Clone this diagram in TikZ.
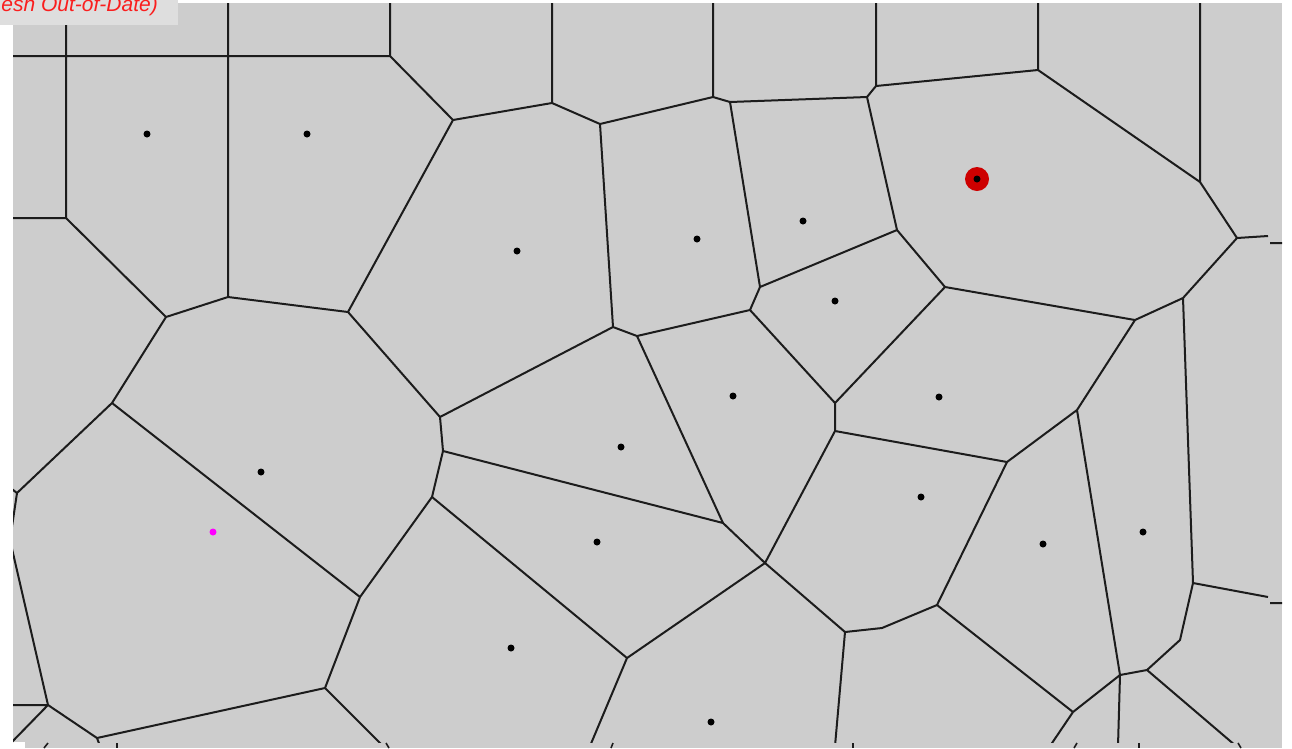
\documentclass[tikz,border=0pt]{standalone}
\usepackage{fontspec}
\newfontfamily\labelfont{Liberation Sans}
\definecolor{cellgray}{RGB}{205,205,205}
\definecolor{edgecol}{RGB}{28,28,28}
\definecolor{boxgray}{RGB}{222,222,222}
\definecolor{labelred}{RGB}{250,30,30}
\definecolor{ringred}{RGB}{205,0,0}
\definecolor{pinksite}{RGB}{255,0,255}
\begin{document}
\begin{tikzpicture}[x=1pt,y=-1pt,
  edge/.style={draw=edgecol, line width=2pt, line join=round},
  site/.style={circle, fill=black, inner sep=0pt, minimum size=7pt},
  tick/.style={draw=edgecol, line width=1.6pt}]
\useasboundingbox (0,0) rectangle (1292,748);
\fill[white] (0,0) rectangle (1292,748);
\fill[cellgray] (13,3) rectangle (1282,748);
\fill[white] (0,742) rectangle (25,748);
% boundary points
\coordinate (a1) at (66,20); \coordinate (a2) at (228,0); \coordinate (a3) at (390,0);
\coordinate (a4) at (552,0); \coordinate (a5) at (713,0); \coordinate (a6) at (876,0);
\coordinate (a7) at (1038,0); \coordinate (a8) at (1200,0);
\coordinate (l1) at (10,56); \coordinate (l2) at (10,218); \coordinate (l3) at (8,486);
\coordinate (l4) at (10,540); \coordinate (l5) at (10,705); \coordinate (l6) at (8,746);
\coordinate (r1a) at (1268,236); \coordinate (r1b) at (1270,243); \coordinate (r1c) at (1285,243);
\coordinate (r2a) at (1268,597); \coordinate (r2b) at (1270,603); \coordinate (r2c) at (1285,603);
\coordinate (b1) at (383,746); \coordinate (b2) at (590,746); \coordinate (b3) at (835,746);
\coordinate (b4) at (1050,746); \coordinate (b5) at (1118,746); \coordinate (b6) at (1236,746);
\coordinate (b7) at (100,746);
% vertices
\coordinate (v1) at (66,56); \coordinate (v2) at (228,56); \coordinate (v3) at (390,56);
\coordinate (v4) at (66,218); \coordinate (v5) at (166,317); \coordinate (v6) at (228,297);
\coordinate (v7) at (348,312); \coordinate (v8) at (453,120); \coordinate (v9) at (552,103);
\coordinate (v10) at (600,124); \coordinate (v11) at (713,97); \coordinate (v12) at (730,102);
\coordinate (v13) at (867,97); \coordinate (v14) at (876,86); \coordinate (v15) at (1038,70);
\coordinate (v16) at (1200,182); \coordinate (v17) at (1237,238); \coordinate (v18) at (1183,298);
\coordinate (v19) at (1135,320); \coordinate (v20) at (945,287); \coordinate (v21) at (897,230);
\coordinate (v22) at (760,287); \coordinate (v23) at (750,310); \coordinate (v24) at (637,336);
\coordinate (v25) at (613,327); \coordinate (v26) at (440,417); \coordinate (v27) at (443,451);
\coordinate (v28) at (432,497); \coordinate (v29) at (723,523); \coordinate (v30) at (765,563);
\coordinate (v31) at (835,403); \coordinate (v32) at (835,431); \coordinate (v33) at (1007,462);
\coordinate (v34) at (1077,410); \coordinate (v35) at (937,605); \coordinate (v35b) at (882,628);
\coordinate (v36) at (845,632); \coordinate (v37) at (627,658); \coordinate (v38) at (112,403);
\coordinate (v39) at (17,493); \coordinate (v40) at (360,597); \coordinate (v41) at (325,688);
\coordinate (v42) at (48,705); \coordinate (v43) at (97,738); \coordinate (v44) at (1193,583);
\coordinate (v45) at (1180,640); \coordinate (v46) at (1147,670); \coordinate (v47) at (1120,675);
\coordinate (v48) at (1073,712);
\begin{scope}
\clip (13,3) rectangle (1282,742);
\draw[edge]
  (l1) -- (v1) -- (v2) -- (v3)
  (a1) -- (v1) -- (v4) -- (l2)
  (a2) -- (v2) -- (v6)
  (a3) -- (v3) -- (v8)
  (v4) -- (v5) -- (v6) -- (v7) -- (v8) -- (v9) -- (v10) -- (v11) -- (v12) -- (v13) -- (v14) -- (v15) -- (v16) -- (v17) -- (r1a)
  (r1b) -- (r1c)
  (a4) -- (v9)  (a5) -- (v11)  (a6) -- (v14)  (a7) -- (v15)  (a8) -- (v16)
  (v17) -- (v18) -- (v19) -- (v20) -- (v21) -- (v13)
  (v21) -- (v22) -- (v12)
  (v22) -- (v23) -- (v24) -- (v25) -- (v10)
  (v25) -- (v26) -- (v7)
  (v26) -- (v27) -- (v28)
  (v27) -- (v29) -- (v24)
  (v29) -- (v30)
  (v23) -- (v31) -- (v20)
  (v31) -- (v32) -- (v30)
  (v32) -- (v33) -- (v34) -- (v19)
  (v18) -- (v44) -- (r2a)
  (r2b) -- (r2c)
  (v44) -- (v45) -- (v46) -- (v47)
  (v46) -- (b6)
  (v47) -- (b5)
  (v34) -- (v47) -- (v48) -- (b4)
  (v48) -- (v35) -- (v33)
  (v35) -- (v35b) -- (v36) -- (v30)
  (v36) -- (b3)
  (v30) -- (v37) -- (v28)
  (v37) -- (b2)
  (v28) -- (v40) -- (v38) -- (v5)
  (v38) -- (v39) -- (l3)
  (v39) -- (l4) -- (v42)
  (v40) -- (v41) -- (b1)
  (v41) -- (v43) -- (v42) -- (l5)
  (v42) -- (l6)
  (v43) -- (b7);
\end{scope}
% small marks along the lower rim
\draw[tick] (48,743) -- (44,748);
\draw[tick] (117,743) -- (117,748);
\draw[tick] (386,743) -- (389,748);
\draw[tick] (613,743) -- (611,748);
\draw[tick] (853,743) -- (853,748);
\draw[tick] (1077,743) -- (1074,748);
\draw[tick] (1139,743) -- (1139,748);
\draw[tick] (1238,743) -- (1241,748);
% sites
\node[site] (s1) at (147,134) {};
\node[site] (s2) at (307,134) {};
\node[site] (s3) at (517,251) {};
\node[site] (s4) at (697,239) {};
\node[site] (s5) at (803,221) {};
\node[circle, fill=ringred, inner sep=0pt, minimum size=24pt] (sel) at (977,179) {};
\node[site] (s6) at (977,179) {};
\node[site] (s7) at (835,301) {};
\node[site] (s8) at (733,396) {};
\node[site] (s9) at (939,397) {};
\node[site] (s10) at (621,447) {};
\node[site] (s11) at (921,497) {};
\node[site] (s12) at (597,542) {};
\node[site] (s13) at (1043,544) {};
\node[site] (s14) at (1143,532) {};
\node[site] (s15) at (511,648) {};
\node[site] (s16) at (711,722) {};
\node[site] (s17) at (261,472) {};
\node[circle, fill=pinksite, inner sep=0pt, minimum size=7pt] (s18) at (213,532) {};
% label box
\begin{scope}
\clip (0,0) rectangle (178,25);
\fill[boxgray] (0,0) rectangle (178,25);
\node[anchor=base east, text=labelred, inner sep=0pt,
      font=\labelfont\itshape\fontsize{21}{21}\selectfont] (lbl) at (158,11) {esh Out-of-Date)};
\end{scope}
\end{tikzpicture}
\end{document}
